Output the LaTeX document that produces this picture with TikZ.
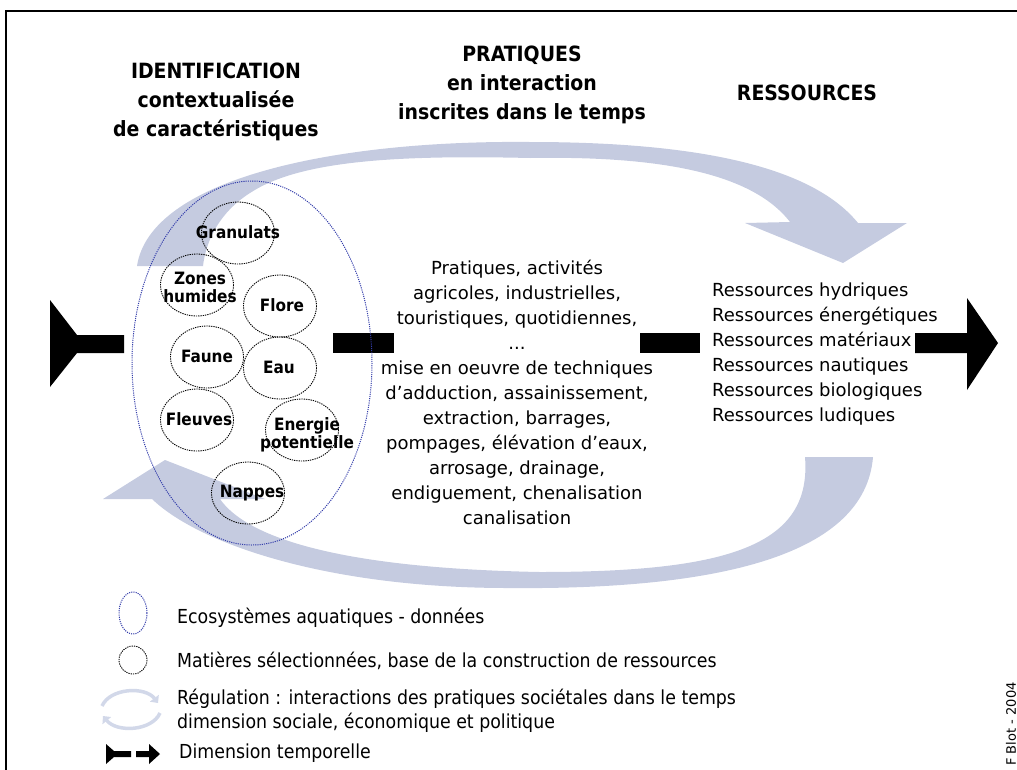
\documentclass[tikz,border=0pt]{standalone}
\usepackage{fontspec}
\setmainfont{DejaVu Sans}
\newfontfamily\condfont{DejaVu Sans Condensed}
\usetikzlibrary{arrows.meta}
\definecolor{arcblue}{RGB}{197,203,224}
\definecolor{arclight}{RGB}{210,216,233}
\definecolor{ecoblue}{RGB}{50,60,170}

\begin{document}
\begin{tikzpicture}[x=1pt,y=-1pt,
  bubble/.style={draw=black,dash pattern=on 1.3pt off 1pt,line width=0.9pt},
  ecoline/.style={draw=ecoblue,dash pattern=on 1.1pt off 1.1pt,line width=1pt},
  bubtext/.style={inner sep=0pt,align=center,font=\condfont\bfseries\fontsize{17}{18}\selectfont},
  title/.style={inner sep=0pt,align=center,font=\condfont\bfseries\fontsize{21}{29}\selectfont},
  body/.style={inner sep=0pt,font=\fontsize{18}{25}\selectfont},
  legend/.style={inner sep=0pt,anchor=west,align=left,font=\condfont\fontsize{19.3}{24.5}\selectfont},
  minireg/.style={arclight,line width=3.5pt,-{Triangle[length=6pt,width=11pt]}}]
\useasboundingbox (0,0) rectangle (1017,769);
\clip (0,0) rectangle (1017,769);
\draw [line width=1.6pt] (6,790) -- (6,11) -- (1040,11);
% regulation arcs
\fill [arcblue] (137,266) .. controls (150,180) and (330,140) .. (530,142)
  .. controls (710,142) and (815,170) .. (858,223) -- (907,223) -- (843,263) -- (745,223) -- (790,222)
  .. controls (750,170) and (650,156) .. (530,158) .. controls (400,155) and (300,160) .. (250,193)
  .. controls (220,212) and (206,240) .. (203,266) -- cycle;
\fill [arcblue] (873,457) .. controls (865,555) and (720,590) .. (508,588)
  .. controls (330,588) and (200,545) .. (152,499) -- (103,499) -- (165,460) -- (265,499) -- (220,499)
  .. controls (245,535) and (330,568) .. (540,572) .. controls (730,572) and (812,545) .. (805,457) -- cycle;
% temporal dimension
\fill (50,300) -- (77,335) -- (124,335) -- (124,353) -- (77,353) -- (50,387) -- cycle;
\fill (333,333) rectangle (394,353);
\fill (640,333) rectangle (700,353);
\fill (915,333) -- (967,333) -- (967,298) -- (998,343) -- (967,390) -- (967,353) -- (915,353) -- cycle;
% ecosystem and selected matters
\draw [ecoline] (252,363) ellipse [x radius=120, y radius=182];
\foreach \cx/\cy in {238/233,197/285,280/306,207/357,280/368,197/420,302/430,248/493}
  \draw [bubble] (\cx,\cy) ellipse [x radius=36.5, y radius=31];
\node [bubtext] (granulats) at (238,232) {Granulats};
\node [bubtext] (zones) at (200,287) {Zones\\humides};
\node [bubtext] (flore) at (282,305) {Flore};
\node [bubtext] (faune) at (207,356) {Faune};
\node [bubtext] (eau) at (279,367) {Eau};
\node [bubtext] (fleuves) at (199,419) {Fleuves};
\node [bubtext] (energie) at (307,435) {Energie\\potentielle};
\node [bubtext] (nappes) at (252,493) {Nappes};
% titles
\node [title] (identif) at (216,102) {IDENTIFICATION\\contextualisée\\de caractéristiques};
\node [title] (pratiq) at (522,85) {PRATIQUES\\en interaction\\inscrites dans le temps};
\node [title] (ressour) at (807,93) {RESSOURCES};
% practices and resources
\node [body,align=center] (pratlist) at (517,392) {Pratiques, activités\\agricoles, industrielles,\\touristiques, quotidiennes,\\...\\mise en oeuvre de techniques\\d’adduction, assainissement,\\extraction, barrages,\\pompages, élévation d’eaux,\\arrosage, drainage,\\endiguement, chenalisation\\canalisation};
\node [body,align=left,anchor=west] (reslist) at (712,354) {Ressources hydriques\\Ressources énergétiques\\Ressources matériaux\\Ressources nautiques\\Ressources biologiques\\Ressources ludiques};
% legend
\draw [ecoline] (133,613) ellipse [x radius=14, y radius=21];
\draw [bubble] (133,660) ellipse [x radius=14, y radius=14];
\draw [minireg] (102,706) .. controls (110,688) and (145,686) .. (158,703);
\draw [minireg] (160,713) .. controls (152,731) and (117,733) .. (103,716);
\fill (106,744) -- (114,751) -- (131,751) -- (131,757) -- (114,757) -- (106,764) -- cycle;
\fill (136,751) -- (149,751) -- (149,744) -- (160,754) -- (149,764) -- (149,757) -- (136,757) -- cycle;
\node [legend] (leg1) at (177,618) {Ecosystèmes aquatiques - données};
\node [legend] (leg2) at (177,661) {Matières sélectionnées, base de la construction de ressources};
\node [legend] (leg3) at (177,711) {Régulation : interactions des pratiques sociétales dans le temps\\dimension sociale, économique et politique};
\node [legend] (leg4) at (179,753) {Dimension temporelle};
\node [inner sep=0pt,rotate=90,font=\fontsize{13}{15}\selectfont] (auteur) at (1011,724) {F Blot - 2004};
\end{tikzpicture}
\end{document}
